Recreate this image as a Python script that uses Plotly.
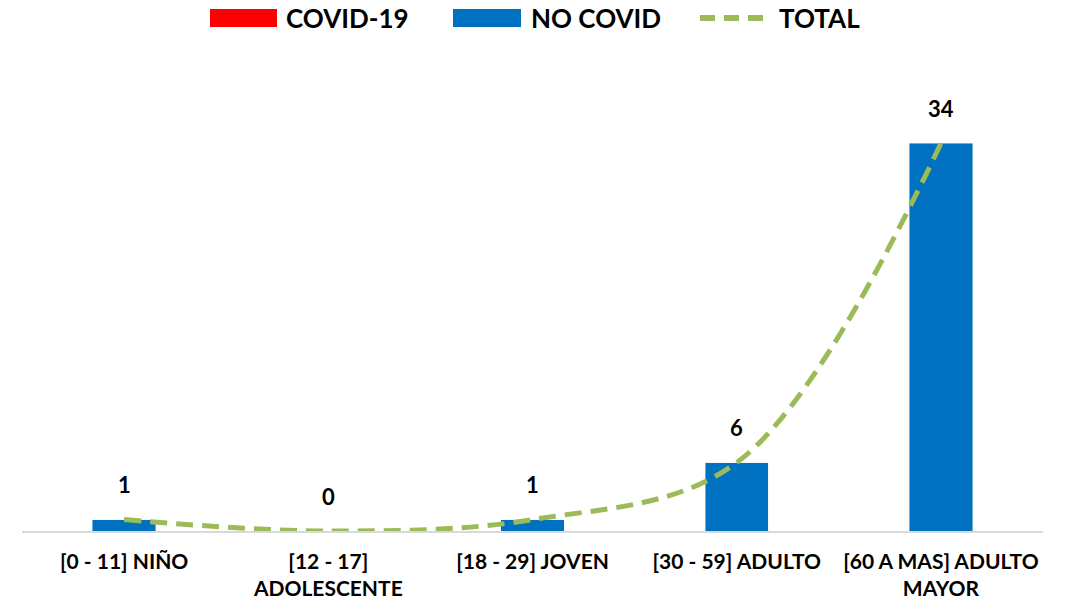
import plotly.graph_objects as go

categories = ["[0 - 11] NIÑO", "[12 - 17]<br>ADOLESCENTE", "[18 - 29] JOVEN",
              "[30 - 59] ADULTO", "[60 A MAS] ADULTO<br>MAYOR"]
covid = [0, 0, 0, 0, 0]
no_covid = [1, 0, 1, 6, 34]
total = [c + n for c, n in zip(covid, no_covid)]
series_names = ["COVID-19", "NO COVID", "TOTAL"]
series_colors = ["#FF0000", "#0070C0", "#9BBB59"]

FONT = "Lato"
W, H = 1066, 604
# plot area in page pixels: x 22..1043, y 75..531
L, T = 22, 75
R = W - 1043
B = H - 531
PW, PH = W - L - R, H - T - B


def px_x(px):
    return (px - L) / PW


def px_y(py):
    return (H - B - py) / PH


fig = go.Figure()
fig.add_trace(go.Bar(x=categories, y=covid, name=series_names[0], marker_color=series_colors[0]))
fig.add_trace(go.Bar(x=categories, y=no_covid, name=series_names[1], marker_color=series_colors[1]))
fig.add_trace(go.Scatter(x=categories, y=total, name=series_names[2], mode="lines",
                         line=dict(color=series_colors[2], width=5, dash="17px,9px",
                                   shape="spline", smoothing=1.0)))

for cat, v in zip(categories, total):
    fig.add_annotation(x=cat, y=v, text=str(v), showarrow=False, yshift=35,
                       font=dict(family=FONT, size=22, color="#000000", weight=700))

# custom legend (wide swatches, as in the reference)
leg_y_top, leg_y_bot = 9, 27
leg_mid = 18
swatches = [(210, 277), (453, 521), (700, 765)]
text_x = [285, 530, 778]
for i, (x0, x1) in enumerate(swatches):
    if i < 2:
        fig.add_shape(type="rect", xref="paper", yref="paper",
                      x0=px_x(x0), x1=px_x(x1), y0=px_y(leg_y_bot), y1=px_y(leg_y_top),
                      fillcolor=series_colors[i], line=dict(width=0))
    else:
        fig.add_shape(type="line", xref="paper", yref="paper",
                      x0=px_x(x0), x1=px_x(x1), y0=px_y(18), y1=px_y(18),
                      line=dict(color=series_colors[i], width=6, dash="15px,9px"))
    fig.add_annotation(xref="paper", yref="paper", x=px_x(text_x[i]), y=px_y(leg_mid),
                       xanchor="left", yanchor="middle", showarrow=False,
                       text=series_names[i], borderpad=0,
                       font=dict(family=FONT, size=26, color="#000000", weight=700))

fig.update_layout(
    width=W, height=H,
    paper_bgcolor="white", plot_bgcolor="white",
    barmode="stack", bargap=0.69,
    margin=dict(l=L, r=R, t=T, b=B, autoexpand=False),
    font=dict(family=FONT, color="#000000"),
    showlegend=False,
    hovermode=False,
    xaxis=dict(showline=True, linecolor="#D9D9D9", linewidth=1.5, ticks="",
               ticklabelstandoff=11, automargin=False,
               tickfont=dict(family=FONT, size=21, weight=700, color="#000000"),
               showgrid=False, fixedrange=True),
    yaxis=dict(range=[0, 40], visible=False, showgrid=False, zeroline=False,
               automargin=False, fixedrange=True),
)

fig.write_html("out.html", config={"displayModeBar": False, "staticPlot": True},
               post_script="document.body.style.margin='0px';")
